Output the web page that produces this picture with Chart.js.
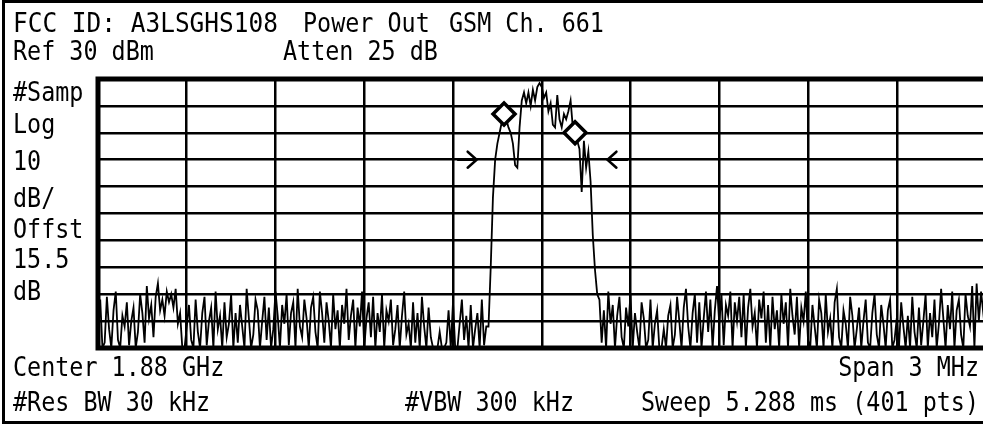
<!DOCTYPE html>
<html>
<head>
<meta charset="utf-8">
<script src="https://cdn.jsdelivr.net/npm/chart.js@4.4.1/dist/chart.umd.min.js"></script>
<style>
  html, body { margin: 0; padding: 0; background: #fff; overflow: hidden; }
  #screen { position: relative; width: 983px; height: 424px; overflow: hidden; background: #fff; }
  #frame { position: absolute; left: 2px; top: 0; width: 1000px; height: 424px; box-sizing: border-box;
           border-left: 3px solid #000; border-top: 3px solid #000; border-bottom: 3px solid #000; }
  #scope { position: absolute; left: 0; top: 0; }
  .t { position: absolute; font-family: "DejaVu Sans Mono", monospace; font-size: 23.4px; line-height: 24px;
       color: #000; white-space: pre; transform: scaleY(1.1); transform-origin: 0 85%; }
  .r { text-align: right; transform-origin: 100% 85%; }
  .wide { transform: scale(1.045, 1.1); }
</style>
</head>
<body>
<div id="screen">
  <canvas id="scope" width="1000" height="424"></canvas>
  <div id="frame"></div>

  <!-- header -->
  <div class="t wide" style="left:13px;top:12px">FCC ID: A3LSGHS108</div>
  <div class="t" style="left:303px;top:12px">Power Out</div>
  <div class="t" style="left:449px;top:12px">GSM Ch. 661</div>
  <div class="t" style="left:13px;top:40px">Ref 30 dBm</div>
  <div class="t" style="left:283px;top:40px">Atten 25 dB</div>

  <!-- left side annotation -->
  <div class="t" style="left:13px;top:81px">#Samp</div>
  <div class="t" style="left:13px;top:113px">Log</div>
  <div class="t" style="left:13px;top:150px">10</div>
  <div class="t" style="left:13px;top:187px">dB/</div>
  <div class="t" style="left:13px;top:218px">Offst</div>
  <div class="t" style="left:13px;top:248px">15.5</div>
  <div class="t" style="left:13px;top:280px">dB</div>

  <!-- footer -->
  <div class="t" style="left:13px;top:356px">Center 1.88 GHz</div>
  <div class="t r" style="right:4px;top:356px">Span 3 MHz</div>
  <div class="t" style="left:13px;top:391px">#Res BW 30 kHz</div>
  <div class="t" style="left:405px;top:391px">#VBW 300 kHz</div>
  <div class="t r" style="right:4px;top:391px">Sweep 5.288 ms (401 pts)</div>
</div>

<script>
// sweep setup
const centerMHz = 1880;
const spanMHz = 3;
const sweepPts = 401;
const refLevel = 30;      // dBm, top of screen
const bottomLevel = -70;  // 10 dB/div, 10 divisions

// graticule
const xGridMHz = [1878.5, 1878.8, 1879.1, 1879.4, 1879.7, 1880.0, 1880.3, 1880.6, 1880.9, 1881.2, 1881.5];
const yGridDbm = [30, 20, 10, 0, -10, -20, -30, -40, -50, -60, -70];

// trace (dBm), points 0..175
const noiseLeft = [
  -66,-52,-70,-68,-51,-63,-70,-56,-49,-67,-70,-58,-62,-53,-69,-60,
  -55,-70,-64,-50,-57,-68,-47,-59,-54,-66,-51,-46,-56,-52,-58,-49,
  -53,-50,-55,-48,-61,-57,-70,-70,-62,-54,-67,-70,-52,-64,-70,-57,
  -51,-69,-60,-55,-70,-49,-63,-58,-70,-53,-66,-61,-50,-70,-57,-68,
  -54,-62,-70,-48,-59,-70,-65,-52,-56,-70,-60,-51,-67,-55,-70,-63,
  -49,-58,-70,-54,-61,-50,-69,-57,-53,-70,-48,-62,-66,-52,-59,-70,
  -55,-51,-64,-70,-49,-57,-68,-53,-60,-70,-50,-63,-56,-70,-54,-61,
  -48,-67,-58,-52,-70,-55,-62,-49,-70,-59,-53,-66,-51,-70,-57,-64,
  -50,-70,-56,-60,-52,-69,-63,-54,-70,-58,-49,-65,-61,-70,-53,-68,
  -57,-70,-51,-62,-70,-55,-66,-70,-70,-70,-64,-70,-70,-68,-56,-70,
  -53,-70,-70,-61,-52,-67,-58,-70,-54,-70,-63,-57,-70,-52,-69,-62
];
// points 176..225, the GSM burst
const signalBand = [
  -62, -40, -14, 0, 6, 10, 14, 17, 15, 12,
  10, 6, -2, -3, 12, 22, 25, 21, 25, 20,
  26, 22, 27, 28.5, 27, 23, 25, 18, 21, 13,
  12, 24, 15, 12, 17, 15, 18, 22, 12, 10,
  7, 4, -12, 7, -3, 3, -8, -28, -41, -50
];
// points 226..400
const noiseRight = [
  -52,-68,-56,-70,-49,-61,-54,-70,-58,-51,-66,-70,-55,-62,-50,-70,
  -57,-64,-70,-53,-59,-70,-67,-52,-70,-61,-56,-70,-70,-63,-70,-58,
  -54,-70,-65,-51,-60,-70,-55,-48,-62,-70,-57,-50,-68,-53,-70,-59,
  -49,-64,-52,-70,-56,-47,-61,-50,-69,-54,-58,-49,-70,-53,-60,-51,
  -66,-50,-70,-55,-48,-62,-57,-70,-52,-59,-49,-68,-54,-70,-51,-63,
  -56,-70,-50,-61,-53,-70,-48,-58,-65,-51,-70,-55,-60,-49,-67,-70,
  -54,-62,-70,-52,-57,-70,-50,-64,-59,-70,-53,-48,-66,-70,-56,-61,
  -70,-51,-58,-70,-63,-55,-70,-60,-52,-68,-70,-57,-50,-65,-70,-54,
  -61,-70,-56,-52,-70,-67,-59,-70,-53,-62,-70,-58,-70,-51,-64,-70,
  -55,-69,-60,-50,-70,-57,-66,-52,-70,-61,-48,-59,-70,-54,-63,-49,
  -70,-56,-52,-65,-70,-50,-58,-62,-47,-70,-46,-60,-49,-57,-51
];

// diamond markers
const markerMHz = [1879.8725, 1880.1125];
const markerDbm = [17, 10];

// occupied bandwidth arrows: tip and tail frequency, level
const obwTipMHz = [1879.78, 1880.222];
const obwTailMHz = [1879.717, 1880.289];
const obwDbm = 0;

const traceDbm = noiseLeft.concat(signalBand, noiseRight);
const startMHz = centerMHz - spanMHz / 2;
const stepMHz = spanMHz / (sweepPts - 1);
const tracePts = traceDbm.map((v, i) => ({ x: startMHz + i * stepMHz, y: v }));
const markerPts = markerMHz.map((f, i) => ({ x: f, y: markerDbm[i] }));

// thick screen border around the graticule
const borderPlugin = {
  id: 'screenBorder',
  afterDraw(chart) {
    const { ctx, chartArea: a } = chart;
    ctx.save();
    ctx.strokeStyle = '#000';
    ctx.lineWidth = 5;
    ctx.strokeRect(a.left, a.top, a.right - a.left, a.bottom - a.top);
    ctx.restore();
  }
};

// the two OBW arrows
const arrowPlugin = {
  id: 'obwArrows',
  afterDatasetsDraw(chart) {
    const { ctx, scales } = chart;
    const py = scales.y.getPixelForValue(obwDbm);
    ctx.save();
    ctx.strokeStyle = '#000';
    ctx.lineWidth = 2.5;
    ctx.lineCap = 'round';
    obwTipMHz.forEach((tip, i) => {
      const tx = scales.x.getPixelForValue(tip);
      const bx = scales.x.getPixelForValue(obwTailMHz[i]);
      const dir = tx > bx ? 1 : -1;
      ctx.beginPath();
      ctx.moveTo(bx, py);
      ctx.lineTo(tx, py);
      ctx.moveTo(tx - dir * 9, py - 8);
      ctx.lineTo(tx, py);
      ctx.lineTo(tx - dir * 9, py + 8);
      ctx.stroke();
    });
    ctx.restore();
  }
};

new Chart(document.getElementById('scope'), {
  data: {
    datasets: [
      {
        type: 'scatter',
        data: markerPts,
        pointStyle: 'rectRot',
        pointRadius: 11,
        pointBorderWidth: 3.5,
        pointBorderColor: '#000',
        pointBackgroundColor: '#fff'
      },
      {
        type: 'line',
        data: tracePts,
        borderColor: '#000',
        borderWidth: 1.8,
        pointRadius: 0,
        tension: 0
      }
    ]
  },
  options: {
    responsive: false,
    animation: false,
    devicePixelRatio: 1,
    layout: { padding: { left: 98, top: 79, right: 10, bottom: 76 } },
    plugins: { legend: { display: false }, tooltip: { enabled: false } },
    scales: {
      x: {
        type: 'linear',
        min: xGridMHz[0],
        max: xGridMHz[xGridMHz.length - 1],
        afterBuildTicks: s => { s.ticks = xGridMHz.map(v => ({ value: v })); },
        ticks: { display: false },
        grid: { color: '#000', lineWidth: 2.5, drawTicks: false },
        border: { display: false }
      },
      y: {
        type: 'linear',
        min: bottomLevel,
        max: refLevel,
        afterBuildTicks: s => { s.ticks = yGridDbm.map(v => ({ value: v })); },
        ticks: { display: false },
        grid: { color: '#000', lineWidth: 2.5, drawTicks: false },
        border: { display: false }
      }
    }
  },
  plugins: [arrowPlugin, borderPlugin]
});
</script>
</body>
</html>
